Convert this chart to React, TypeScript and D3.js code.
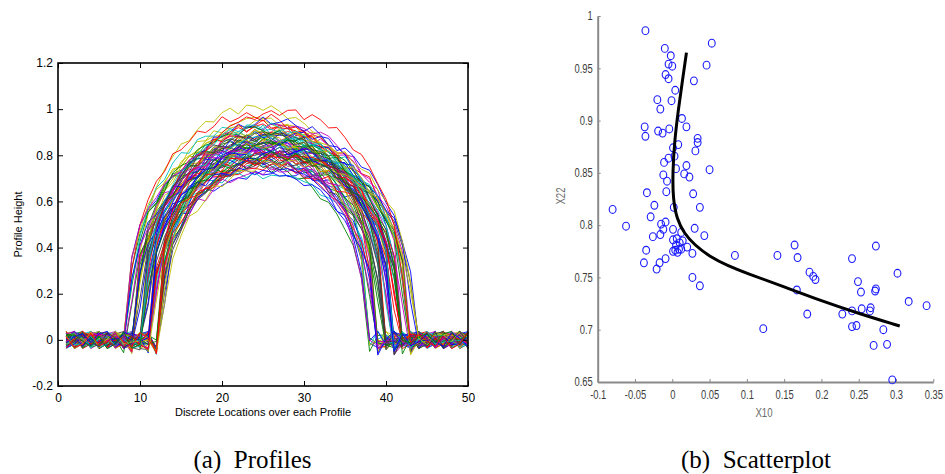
import React, { useEffect, useRef } from "react";
import * as d3 from "d3";

// ---- panel (a): profiles ----
const locations = d3.range(1, 51);

// per profile: where the arch starts / ends and its top height
const riseStart = [
  8.2, 9.1, 10.4, 11.7, 12.6, 9.8, 10.9, 11.3, 8.7, 12.1,
  10.2, 11.8, 9.4, 12.8, 10.6, 8.9, 11.1, 12.3, 9.6, 10.0,
  11.5, 12.9, 8.4, 10.8, 9.2, 11.9, 12.4, 10.3, 9.9, 11.6,
  8.6, 12.2, 10.5, 11.0, 9.5, 12.7, 10.1, 11.4, 8.8, 12.0,
  9.7, 10.7, 11.2, 12.5, 9.0, 10.4, 11.8, 8.3, 12.6, 10.9,
  9.3, 11.5, 12.1, 10.2, 9.8, 11.3, 8.5, 12.4, 10.6, 11.7,
  9.1, 12.8, 10.0, 11.1, 9.6, 12.3, 10.7, 8.9, 11.9, 10.3,
  9.4, 12.0, 11.6, 10.5, 8.1, 12.9, 9.9, 11.0, 10.8, 12.2,
];
const fallEnd = [
  37.8, 39.2, 40.1, 41.5, 42.8, 38.6, 40.7, 41.9, 38.1, 42.3,
  39.5, 41.2, 38.9, 43.4, 40.4, 37.5, 41.0, 42.6, 39.8, 40.0,
  41.7, 43.1, 37.9, 40.9, 39.0, 42.0, 42.9, 39.7, 38.4, 41.4,
  38.3, 42.5, 40.2, 40.6, 39.3, 43.6, 39.9, 41.3, 38.0, 42.1,
  38.7, 40.5, 41.8, 42.7, 38.5, 39.6, 41.6, 37.7, 43.0, 40.8,
  39.1, 41.1, 42.4, 40.3, 38.8, 41.0, 37.6, 42.2, 40.0, 41.9,
  38.2, 43.3, 39.4, 40.6, 39.0, 42.0, 40.9, 38.9, 42.6, 39.8,
  38.6, 41.5, 41.2, 40.1, 37.4, 43.2, 39.5, 40.4, 41.7, 42.3,
];
const peakHeight = [
  0.84, 0.79, 0.92, 0.76, 0.88, 0.95, 0.81, 0.73, 0.86, 0.9,
  0.78, 0.83, 1.0, 0.8, 0.87, 0.75, 0.91, 0.85, 0.82, 0.94,
  0.77, 0.89, 0.83, 0.86, 0.72, 0.93, 0.8, 0.88, 0.79, 0.84,
  0.97, 0.82, 0.76, 0.9, 0.85, 0.81, 0.87, 0.78, 0.92, 0.74,
  0.86, 0.83, 0.89, 0.8, 0.77, 0.91, 0.84, 0.88, 0.79, 0.95,
  0.82, 0.75, 0.87, 0.85, 0.9, 0.81, 0.78, 0.86, 0.93, 0.83,
  0.8, 0.88, 0.76, 0.84, 0.91, 0.79, 0.87, 0.82, 0.85, 0.89,
  0.73, 0.86, 0.81, 0.92, 0.84, 0.77, 0.88, 0.83, 0.8, 0.98,
];
// measurement wiggle on each discrete location
const wiggle = [
  0.012, -0.021, 0.034, -0.008, 0.019, -0.035, 0.004, 0.027, -0.016, 0.009,
  -0.029, 0.022, -0.003, 0.038, -0.012, 0.015, -0.024, 0.031, -0.006, 0.001,
  -0.018, 0.026, -0.033, 0.011, 0.007, -0.027, 0.02, -0.01, 0.036, -0.019,
  0.003, -0.031, 0.016, 0.024, -0.005, -0.022, 0.029, -0.014, 0.01, -0.038,
  0.018, -0.002, 0.033, -0.025, 0.006, 0.013, -0.017, 0.028, -0.03, 0.021,
  -0.009, 0.002, -0.026, 0.035, -0.013, 0.017, -0.007, 0.025, -0.02, 0.008, -0.036,
];
const lineColors = ["#0000ff", "#008000", "#ff0000", "#00bfbf", "#bf00bf", "#bfbf00", "#404040"];

const profileTicksX = [0, 10, 20, 30, 40, 50];
const profileTicksY = [-0.2, 0, 0.2, 0.4, 0.6, 0.8, 1, 1.2];

// ---- panel (b): scatter ----
const scatterX = [
  -0.036, -0.01, -0.002, -0.005, 0.0, -0.009, -0.005, 0.004, 0.053, 0.046,
  0.029, -0.02, -0.016, -0.001, -0.037, -0.036, -0.019, -0.013, -0.004, 0.013,
  0.019, 0.034, 0.034, 0.031, 0.008, 0.001, 0.003, -0.005, -0.011, 0.005,
  0.019, 0.016, 0.023, 0.05, -0.012, -0.007, -0.034, -0.008, 0.028, -0.024,
  0.002, 0.037, -0.08,
  -0.029, -0.062, -0.015, -0.009, -0.012, -0.016, -0.026, 0.001, 0.012, 0.03,
  0.043, 0.001, 0.006, 0.01, 0.014, 0.005, 0.009, 0.004, 0.001, 0.007,
  0.012, 0.02, 0.027, -0.035, -0.038, -0.009, -0.017, -0.021, 0.027, 0.037,
  0.084, 0.141, 0.164, 0.168, 0.184, 0.189, 0.192, 0.167, 0.181, 0.122,
  0.241, 0.273, 0.302, 0.249, 0.253, 0.272, 0.273, 0.317, 0.341, 0.228,
  0.241, 0.254, 0.266, 0.265, 0.241, 0.247, 0.283, 0.27, 0.288, 0.295,
];
const scatterY = [
  0.986, 0.969, 0.962, 0.954, 0.952, 0.944, 0.94, 0.929, 0.974, 0.953,
  0.938, 0.92, 0.911, 0.919, 0.894, 0.885, 0.89, 0.888, 0.892, 0.902,
  0.894, 0.883, 0.879, 0.871, 0.877, 0.874, 0.866, 0.864, 0.86, 0.854,
  0.857, 0.849, 0.846, 0.853, 0.848, 0.842, 0.831, 0.832, 0.83, 0.819,
  0.817, 0.817, 0.815,
  0.808, 0.799, 0.801, 0.803, 0.796, 0.791, 0.789, 0.796, 0.793, 0.797,
  0.79, 0.786, 0.787, 0.783, 0.785, 0.781, 0.777, 0.776, 0.775, 0.774,
  0.777, 0.779, 0.773, 0.776, 0.764, 0.768, 0.764, 0.758, 0.75, 0.742,
  0.771, 0.771, 0.781, 0.769, 0.755, 0.751, 0.748, 0.738, 0.715, 0.701,
  0.768, 0.78, 0.754, 0.746, 0.736, 0.737, 0.739, 0.727, 0.723, 0.715,
  0.718, 0.72, 0.721, 0.718, 0.703, 0.704, 0.7, 0.685, 0.686, 0.652,
];
// fitted curve traced through the black line (ends repeated so the spline reaches them)
const trendX = [0.019, 0.019, 0.014, 0.008, 0.003, 0.0005, 0.001, 0.006, 0.016, 0.03, 0.05, 0.075, 0.1, 0.15, 0.2, 0.25, 0.305, 0.305];
const trendY = [0.965, 0.965, 0.94, 0.91, 0.88, 0.85, 0.825, 0.806, 0.792, 0.781, 0.77, 0.761, 0.754, 0.741, 0.7275, 0.7155, 0.7035, 0.7035];

const scatterTicksX = [-0.1, -0.05, 0, 0.05, 0.1, 0.15, 0.2, 0.25, 0.3, 0.35];
const scatterTicksY = [0.65, 0.7, 0.75, 0.8, 0.85, 0.9, 0.95, 1];

const App = () => {
  const ref = useRef<SVGSVGElement>(null);

  useEffect(() => {
    const svg = d3.select(ref.current);
    svg.selectAll("*").remove();
    const sans = "'Liberation Sans', Arial, Helvetica, sans-serif";
    const fmt = (d) => String(d);

    // ===== profiles =====
    const x = d3.scaleLinear().domain([0, 50]).range([58, 468]);
    const y = d3.scaleLinear().domain([-0.2, 1.2]).range([386, 63]);

    const profiles = riseStart.map((s, i) => {
      const e = fallEnd[i];
      const h = peakHeight[i];
      return locations.map((loc, k) => {
        const n = wiggle[(i * 11 + k * 7) % wiggle.length];
        if (loc <= s || loc >= e) {
          let v = n;
          if (loc > s - 1 && loc <= s) v -= 0.025;
          if (loc >= e && loc < e + 1) v -= 0.03;
          return [loc, v];
        }
        const t = (loc - (s + e) / 2) / ((e - s) / 2);
        return [loc, h * Math.pow(1 - t * t, 0.38) + n * 0.6];
      });
    });

    const line = d3
      .line()
      .x((d) => x(d[0]))
      .y((d) => y(d[1]));

    svg
      .append("g")
      .selectAll("path")
      .data(profiles)
      .enter()
      .append("path")
      .attr("d", line)
      .attr("fill", "none")
      .attr("stroke", (d, i) => lineColors[i % lineColors.length])
      .attr("stroke-width", 0.9);

    const styleAxis = (g) => {
      g.select(".domain").remove();
      g.selectAll("line").attr("stroke", "#000");
      g.selectAll("text").attr("fill", "#000").attr("font-size", 12).attr("font-family", sans);
    };

    svg
      .append("g")
      .attr("transform", `translate(0,${y(-0.2)})`)
      .call(d3.axisBottom(x).tickValues(profileTicksX).tickFormat(fmt).tickSizeInner(-5).tickSizeOuter(0).tickPadding(7))
      .call(styleAxis);
    svg
      .append("g")
      .attr("transform", `translate(${x(0)},0)`)
      .call(d3.axisLeft(y).tickValues(profileTicksY).tickFormat(fmt).tickSizeInner(-5).tickSizeOuter(0).tickPadding(5))
      .call(styleAxis);
    svg
      .append("g")
      .attr("transform", `translate(0,${y(1.2)})`)
      .call(d3.axisTop(x).tickValues(profileTicksX).tickFormat(() => "").tickSizeInner(-5).tickSizeOuter(0))
      .call(styleAxis);
    svg
      .append("g")
      .attr("transform", `translate(${x(50)},0)`)
      .call(d3.axisRight(y).tickValues(profileTicksY).tickFormat(() => "").tickSizeInner(-5).tickSizeOuter(0))
      .call(styleAxis);

    svg
      .append("rect")
      .attr("x", x(0))
      .attr("y", y(1.2))
      .attr("width", x(50) - x(0))
      .attr("height", y(-0.2) - y(1.2))
      .attr("fill", "none")
      .attr("stroke", "#000")
      .attr("stroke-width", 1.6);

    svg
      .append("text")
      .attr("x", (x(0) + x(50)) / 2)
      .attr("y", 416)
      .attr("text-anchor", "middle")
      .attr("font-family", sans)
      .attr("font-size", 11)
      .text("Discrete Locations over each Profile");
    svg
      .append("text")
      .attr("transform", `translate(21.5,${(y(1.2) + y(-0.2)) / 2}) rotate(-90)`)
      .attr("text-anchor", "middle")
      .attr("font-family", sans)
      .attr("font-size", 11)
      .text("Profile Height");

    // ===== scatter =====
    const sx = d3.scaleLinear().domain([-0.1, 0.35]).range([597.7, 933.3]);
    const sy = d3.scaleLinear().domain([0.65, 1]).range([382, 16]);
    const grey = "#8a8a8a";
    const labelGrey = "#3c3c3c";

    const styleGrey = (g) => {
      g.select(".domain").attr("stroke", grey).attr("stroke-width", 2);
      g.selectAll(".tick line").attr("stroke", grey);
      g.selectAll("text")
        .attr("fill", labelGrey)
        .attr("font-size", 12)
        .attr("font-family", sans)
        .attr("lengthAdjust", "spacingAndGlyphs")
        .attr("textLength", function () {
          return this.getComputedTextLength() * 0.78;
        });
    };

    svg
      .append("g")
      .attr("transform", `translate(0,${sy(0.65)})`)
      .call(d3.axisBottom(sx).tickValues(scatterTicksX).tickFormat(fmt).tickSizeInner(-3).tickSizeOuter(0).tickPadding(8))
      .call(styleGrey);
    svg
      .append("g")
      .attr("transform", `translate(${sx(-0.1)},0)`)
      .call(d3.axisLeft(sy).tickValues(scatterTicksY).tickFormat(fmt).tickSizeInner(-3).tickSizeOuter(0).tickPadding(5))
      .call(styleGrey);

    svg
      .append("g")
      .selectAll("ellipse")
      .data(scatterX)
      .enter()
      .append("ellipse")
      .attr("cx", (d) => sx(d))
      .attr("cy", (d, i) => sy(scatterY[i]))
      .attr("rx", 3.4)
      .attr("ry", 3.9)
      .attr("fill", "none")
      .attr("stroke", "#1a1aff")
      .attr("stroke-width", 1.1);

    const trend = d3
      .line()
      .x((d) => sx(d))
      .y((d, i) => sy(trendY[i]))
      .curve(d3.curveBasis);
    svg
      .append("path")
      .attr("d", trend(trendX))
      .attr("fill", "none")
      .attr("stroke", "#000")
      .attr("stroke-width", 3);

    const xl = svg
      .append("text")
      .attr("x", 764)
      .attr("y", 417)
      .attr("text-anchor", "middle")
      .attr("fill", "#6a6a6a")
      .attr("font-family", sans)
      .attr("font-size", 12)
      .text("X10");
    const yl = svg
      .append("text")
      .attr("transform", `translate(565,196) rotate(-90)`)
      .attr("text-anchor", "middle")
      .attr("fill", "#6a6a6a")
      .attr("font-family", sans)
      .attr("font-size", 12)
      .text("X22");
    [xl, yl].forEach((t) =>
      t.attr("lengthAdjust", "spacingAndGlyphs").attr("textLength", (t.node() as SVGTextElement).getComputedTextLength() * 0.8)
    );

    // ===== captions =====
    const serif = "'Liberation Serif', 'Times New Roman', serif";
    svg
      .append("text")
      .attr("x", 252.5)
      .attr("y", 468)
      .attr("text-anchor", "middle")
      .attr("font-family", serif)
      .attr("font-size", 25)
      .style("white-space", "pre")
      .text("(a)  Profiles");
    svg
      .append("text")
      .attr("x", 756)
      .attr("y", 468)
      .attr("text-anchor", "middle")
      .attr("font-family", serif)
      .attr("font-size", 25)
      .style("white-space", "pre")
      .text("(b)  Scatterplot");
  }, []);

  return (
    <svg
      ref={ref}
      width={945}
      height={474}
      style={{ position: "absolute", left: 0, top: 0, background: "#fff" }}
    />
  );
};

export default App;
